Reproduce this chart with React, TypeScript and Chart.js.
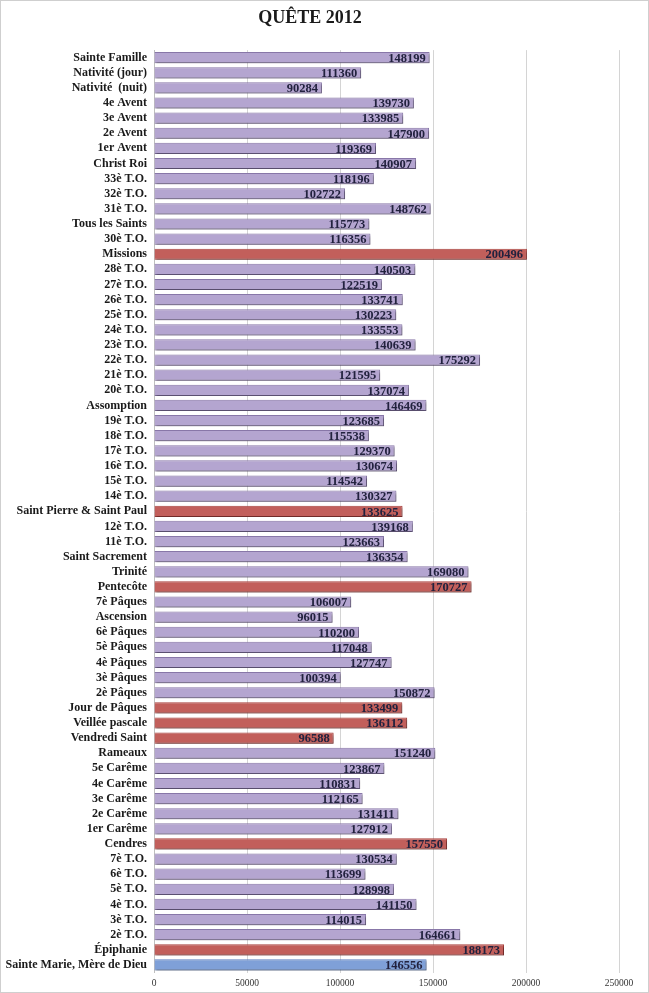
import React, { useEffect, useRef } from "react";
import { Chart, registerables } from "chart.js";

Chart.register(...registerables);

const categories: string[] = [
  "Sainte Famille", "Nativité (jour)", "Nativité  (nuit)", "4e Avent", "3e Avent", "2e Avent", "1er Avent",
  "Christ Roi", "33è T.O.", "32è T.O.", "31è T.O.", "Tous les Saints", "30è T.O.", "Missions",
  "28è T.O.", "27è T.O.", "26è T.O.", "25è T.O.", "24è T.O.", "23è T.O.", "22è T.O.", "21è T.O.",
  "20è T.O.", "Assomption", "19è T.O.", "18è T.O.", "17è T.O.", "16è T.O.", "15è T.O.", "14è T.O.",
  "Saint Pierre & Saint Paul", "12è T.O.", "11è T.O.", "Saint Sacrement", "Trinité", "Pentecôte",
  "7è Pâques", "Ascension", "6è Pâques", "5è Pâques", "4è Pâques", "3è Pâques", "2è Pâques",
  "Jour de Pâques", "Veillée pascale", "Vendredi Saint", "Rameaux", "5e Carême", "4e Carême",
  "3e Carême", "2e Carême", "1er Carême", "Cendres", "7è T.O.", "6è T.O.", "5è T.O.", "4è T.O.",
  "3è T.O.", "2è T.O.", "Épiphanie", "Sainte Marie, Mère de Dieu",
];

const values: number[] = [
  148199, 111360, 90284, 139730, 133985, 147900, 119369,
  140907, 118196, 102722, 148762, 115773, 116356, 200496,
  140503, 122519, 133741, 130223, 133553, 140639, 175292, 121595,
  137074, 146469, 123685, 115538, 129370, 130674, 114542, 130327,
  133625, 139168, 123663, 136354, 169080, 170727,
  106007, 96015, 110200, 117048, 127747, 100394, 150872,
  133499, 136112, 96588, 151240, 123867, 110831,
  112165, 131411, 127912, 157550, 130534, 113699, 128998, 141150,
  114015, 164661, 188173, 146556,
];

// kind of each bar: "o" ordinary, "f" feast (red), "n" new year (blue)
const kinds: string[] = [
  "o", "o", "o", "o", "o", "o", "o",
  "o", "o", "o", "o", "o", "o", "f",
  "o", "o", "o", "o", "o", "o", "o", "o",
  "o", "o", "o", "o", "o", "o", "o", "o",
  "f", "o", "o", "o", "o", "f",
  "o", "o", "o", "o", "o", "o", "o",
  "f", "f", "f", "o", "o", "o",
  "o", "o", "o", "f", "o", "o", "o", "o",
  "o", "o", "f", "n",
];

const xTicks: number[] = [0, 50000, 100000, 150000, 200000, 250000];

const FILL: Record<string, string> = { o: "#b4a5d0", f: "#c25f5b", n: "#7fa0d8" };
const BORDER: Record<string, string> = { o: "#8877a8", f: "#a8403d", n: "#5c7fbd" };

const SERIF = "'Liberation Serif', 'DejaVu Serif', serif";

const shadowPlugin = {
  id: "barShadow",
  beforeDatasetsDraw(chart: any) {
    const ctx = chart.ctx;
    ctx.save();
    ctx.shadowColor = "rgba(0,0,0,0.35)";
    ctx.shadowBlur = 2;
    ctx.shadowOffsetX = 1.5;
    ctx.shadowOffsetY = 2;
  },
  afterDatasetsDraw(chart: any) {
    chart.ctx.restore();
  },
};

const labelPlugin = {
  id: "barLabels",
  afterDatasetsDraw(chart: any) {
    const ctx = chart.ctx;
    const meta = chart.getDatasetMeta(0);
    ctx.save();
    ctx.font = `bold 12.5px ${SERIF}`;
    ctx.fillStyle = "#22223e";
    ctx.textAlign = "right";
    ctx.textBaseline = "middle";
    meta.data.forEach((bar: any, i: number) => {
      ctx.fillText(String(values[i]), bar.x - 4, bar.y + 1);
    });
    ctx.restore();
  },
};

export default function App() {
  const ref = useRef<HTMLCanvasElement | null>(null);

  useEffect(() => {
    document.body.style.margin = "0";
    if (!ref.current) return;
    const chart = new Chart(ref.current, {
      type: "bar",
      data: {
        labels: categories,
        datasets: [
          {
            data: values,
            backgroundColor: kinds.map((k) => FILL[k]),
            borderColor: kinds.map((k) => BORDER[k]),
            borderWidth: 1,
            barPercentage: 0.74,
            categoryPercentage: 1,
          },
        ],
      },
      options: {
        indexAxis: "y",
        animation: false,
        responsive: false,
        maintainAspectRatio: false,
        layout: { padding: { left: 0, right: 29, top: 0, bottom: 0 } },
        plugins: {
          legend: { display: false },
          tooltip: { enabled: false },
          title: {
            display: true,
            text: "QUÊTE 2012",
            font: { family: SERIF, size: 18, weight: "bold" },
            color: "#1a1a1a",
            padding: { top: 7, bottom: 20.5 },
          },
        },
        scales: {
          x: {
            min: 0,
            max: 250000,
            afterBuildTicks: (scale: any) => {
              scale.ticks = xTicks.map((v) => ({ value: v }));
            },
            afterFit: (scale: any) => {
              scale.height = 19.5;
            },
            grid: { color: "#d4d4d4", drawTicks: false, lineWidth: 1 },
            border: { display: false },
            ticks: {
              padding: 5,
              font: { family: SERIF, size: 9.5 },
              color: "#333",
              maxRotation: 0,
              callback: (v: any) => String(v),
            },
          },
          y: {
            afterFit: (scale: any) => {
              scale.width = 153;
            },
            grid: { display: false, drawTicks: false },
            border: { display: true, color: "#bfbfbf" },
            ticks: {
              padding: 7,
              autoSkip: false,
              font: { family: SERIF, size: 12, weight: "bold" },
              color: "#1a1a1a",
            },
          },
        },
      },
      plugins: [shadowPlugin, labelPlugin],
    });
    return () => chart.destroy();
  }, []);

  return (
    <div
      style={{
        position: "absolute",
        left: 0,
        top: 0,
        width: 649,
        height: 993,
        boxSizing: "border-box",
        border: "1px solid #cfcfcf",
        background: "#fff",
      }}
    >
      <canvas ref={ref} width={647} height={991} style={{ display: "block" }} />
    </div>
  );
}
